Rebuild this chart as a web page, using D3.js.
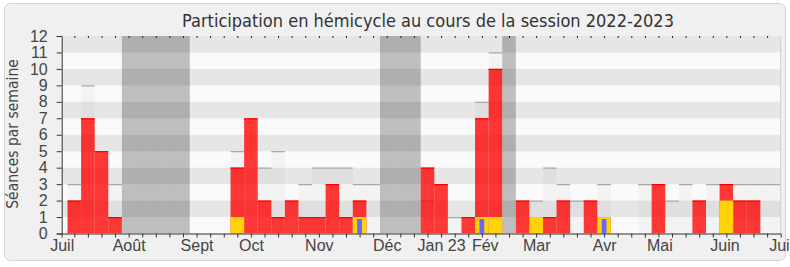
<!DOCTYPE html>
<html><head><meta charset="utf-8">
<script src="https://cdn.jsdelivr.net/npm/d3@7"></script>
<style>
html,body{margin:0;padding:0;background:#fff;}
svg{display:block;font-family:"DejaVu Sans Condensed","DejaVu Sans",sans-serif;font-stretch:condensed;}
</style></head><body>
<svg id="c" width="790" height="267"></svg>
<script>
// ---- data ----
const title = "Participation en hémicycle au cours de la session 2022-2023";
const yLabel = "Séances par semaine";
const firstWeek = "2022-07-04"; // Monday of week 0
// week index 0..52
const presences    = [2,7,5,1,0,0,0,0,0,0,0,0,4,7,2,1,2,1,1,3,1,2,0,0,0,0,4,3,0,1,7,10,0,2,1,1,2,0,2,1,0,0,0,3,0,0,2,0,3,2,2,0,0];
const mediane      = [3,9,0,3,0,0,0,0,0,0,0,0,5,0,4,5,0,3,4,4,4,3,3,0,0,0,2,0,1,0,8,11,0,0,2,4,3,2,0,3,0,0,3,0,2,3,0,3,0,3,3,3,3];
const interventions= [0,0,0,0,0,0,0,0,0,0,0,0,1,0,0,0,0,0,0,0,0,1,0,0,0,0,0,0,0,0,1,1,0,0,1,0,0,0,0,1,0,0,0,0,0,0,0,0,2,0,0,0,0];
const questions    = [0,0,0,0,0,0,0,0,0,0,0,0,0,0,0,0,0,0,0,0,0,1,0,0,0,0,0,0,0,0,1,0,0,0,0,0,0,0,0,1,0,0,0,0,0,0,0,0,0,0,0,0,0];
const vacances     = [4,5,6,7,8,23,24,25,32];
const yTicks       = [0,1,2,3,4,5,6,7,8,9,10,11,12];
const monthLabels  = ["Juil","Août","Sept","Oct","Nov","Déc","Jan 23","Fév","Mar","Avr","Mai","Juin","Juil"];
const monthDates   = ["2022-07-01T00","2022-08-04T12","2022-09-08T12","2022-10-06T12","2022-11-10T12","2022-12-15T12","2023-01-12T12","2023-02-04T00","2023-03-02T12","2023-04-06T12","2023-05-05T00","2023-06-07T12","2023-07-06T12"];
const domainDates  = ["2022-07-01T00","2023-07-06T12"];

// ---- layout ----
const X0 = 61.7, X1 = 780.7, YT = 36, YB = 233.5;
const pDay = d3.utcParse("%Y-%m-%d"), pHr = d3.utcParse("%Y-%m-%dT%H");
const start = pDay(firstWeek);
const wStart = k => d3.utcDay.offset(start, 7*k);
const wMid = k => d3.utcHour.offset(start, 7*24*k + 84);
const x = d3.scaleUtc().domain(domainDates.map(pHr)).range([X0, X1]);
const y = d3.scaleLinear().domain([0,12]).range([YB, YT]);
const weeks = d3.range(presences.length);

const svg = d3.select("#c");
svg.append("rect").attr("x",4.5).attr("y",3.5).attr("width",781).attr("height",257)
  .attr("rx",6).attr("fill","#f0f0f0").attr("stroke","#d4d4d4");

svg.append("clipPath").attr("id","clip").append("rect")
  .attr("x",X0).attr("y",YT).attr("width",X1-X0).attr("height",YB-YT);
const plot = svg.append("g").attr("clip-path","url(#clip)");

// stripes
plot.selectAll("rect.s").data(d3.range(12)).join("rect").attr("class","s")
  .attr("x",X0).attr("width",X1-X0)
  .attr("y",i=>y(i+1)).attr("height",i=>y(i)-y(i+1))
  .attr("fill",i=> i%2 ? "#e6e6e6" : "#fafafa");

const bx = k => x(wStart(k)), bw = k => x(wStart(k+1)) - x(wStart(k));

// median / light bars
const med = weeks.filter(k=>mediane[k]>0);
plot.selectAll("rect.m").data(med).join("rect").attr("class","m")
  .attr("x",bx).attr("width",bw).attr("y",k=>y(mediane[k])).attr("height",k=>YB-y(mediane[k]))
  .attr("fill","rgba(0,0,0,0.028)");
plot.selectAll("line.m").data(med).join("line").attr("class","m")
  .attr("x1",bx).attr("x2",k=>bx(k)+bw(k)).attr("y1",k=>y(mediane[k])+0.5).attr("y2",k=>y(mediane[k])+0.5)
  .attr("stroke","#a9a9a9").attr("stroke-width",1.2);

// vacances
plot.selectAll("rect.v").data(vacances).join("rect").attr("class","v")
  .attr("x",bx).attr("width",bw).attr("y",YT).attr("height",YB-YT)
  .attr("fill","rgba(0,0,0,0.24)");

// présences
const pr = weeks.filter(k=>presences[k]>0);
plot.selectAll("rect.p").data(pr).join("rect").attr("class","p")
  .attr("x",bx).attr("width",bw).attr("y",k=>y(presences[k])).attr("height",k=>YB-y(presences[k]))
  .attr("fill","rgba(255,0,0,0.78)");
plot.selectAll("line.p").data(pr).join("line").attr("class","p")
  .attr("x1",bx).attr("x2",k=>bx(k)+bw(k)).attr("y1",k=>y(presences[k])+0.5).attr("y2",k=>y(presences[k])+0.5)
  .attr("stroke","#ff0000").attr("stroke-width",1.2);

// interventions
const iv = weeks.filter(k=>interventions[k]>0);
plot.selectAll("rect.i").data(iv).join("rect").attr("class","i")
  .attr("x",bx).attr("width",bw).attr("y",k=>y(interventions[k])).attr("height",k=>YB-y(interventions[k]))
  .attr("fill","#ffd20a");

// questions
const qs = weeks.filter(k=>questions[k]>0);
plot.selectAll("rect.q").data(qs).join("rect").attr("class","q")
  .attr("x",k=>x(wMid(k))-2.4).attr("width",4.8).attr("y",k=>y(questions[k])+2).attr("height",k=>YB-y(questions[k])-2)
  .attr("fill","#6868ff");

// right border
svg.append("line").attr("x1",X1).attr("x2",X1).attr("y1",YT).attr("y2",YB).attr("stroke","#cfcfcf");

// axes
const axCol = "#333";
const gl = svg.append("g").attr("transform",`translate(${X0},0)`)
  .call(d3.axisLeft(y).tickValues(yTicks).tickSize(5).tickPadding(9).tickFormat(d3.format("d")));
gl.selectAll("text").attr("font-size",16).attr("fill","#444").attr("font-family",null);
gl.selectAll("line,path").attr("stroke",axCol);

const gb = svg.append("g").attr("transform",`translate(0,${YB})`)
  .call(d3.axisBottom(x).tickValues(weeks.slice(0,52).map(wMid)).tickSize(4).tickSizeOuter(4).tickFormat(""));
gb.selectAll("line,path").attr("stroke",axCol);

const gt = svg.append("g").attr("transform",`translate(0,${YT+2})`)
  .call(d3.axisTop(x).tickValues(weeks.slice(0,52).map(wMid)).tickSize(2).tickFormat(""));
gt.select(".domain").remove();
gt.selectAll("line").attr("stroke","#222");

const gm = svg.append("g").attr("transform",`translate(0,${YB})`)
  .call(d3.axisBottom(x).tickValues(monthDates.map(pHr)).tickSize(0).tickPadding(6.6)
    .tickFormat((d,i)=>monthLabels[i]));
gm.select(".domain").remove();
gm.selectAll("text").attr("font-size",16).attr("fill","#444").attr("font-family",null);

svg.append("text").attr("transform","translate(18,134) rotate(-90)")
  .attr("text-anchor","middle").attr("font-size",15.5).attr("fill","#444").text(yLabel);

svg.append("text").attr("x",428).attr("y",27).attr("text-anchor","middle")
  .attr("font-size",18).attr("fill","#333").text(title);
</script>
</body></html>
